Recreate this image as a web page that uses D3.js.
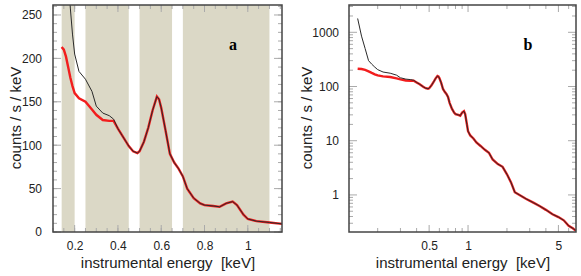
<!DOCTYPE html>
<html lang="en">
<head>
<meta charset="UTF-8"/>
<title>Spectrum panels</title>
<script src="https://d3js.org/d3.v7.min.js"></script>
<style>
	body { margin: 0; background: #fff; }
	text { font-family: "Liberation Sans", Arial, sans-serif; }
</style>
</head>
<body>
<script>

	// spectrum, keV vs counts/s/keV
	var energy = [0.14, 0.15, 0.16, 0.17, 0.18, 0.19, 0.2, 0.22, 0.25, 0.28,
		0.3, 0.33, 0.36, 0.38, 0.4, 0.42, 0.45, 0.47, 0.49, 0.5,
		0.52, 0.54, 0.56, 0.58, 0.59, 0.6, 0.62, 0.64, 0.66, 0.68,
		0.7, 0.72, 0.75, 0.78, 0.8, 0.84, 0.87, 0.9, 0.93, 0.95,
		0.98, 1.0, 1.04, 1.1, 1.16, 1.25, 1.35, 1.45, 1.55, 1.7,
		1.85, 2.0, 2.15, 2.3, 2.5, 2.8, 3.2, 3.6, 4.0, 4.5,
		5.0, 5.5, 6.0, 6.5, 6.8];

	var countsRed = [213, 210, 202, 190, 178, 168, 160, 154, 150, 141,
		135, 129, 128, 128, 119, 111, 99, 93, 91, 93,
		104, 120, 140, 156, 153, 143, 117, 90, 80, 73,
		64, 50, 39, 33, 31, 30, 29, 33, 35, 31,
		20, 15, 12.5, 11, 9.3, 8, 6.8, 6.0, 4.5, 3.7,
		3.3, 2.4, 1.7, 1.12, 1.0, 0.85, 0.72, 0.62, 0.53, 0.44,
		0.39, 0.34, 0.27, 0.24, 0.22];

	var countsBlack = [1800, 850, 500, 300, 258, 228, 205, 185, 176, 162,
		145, 137, 134, 130, 119, 111, 99, 93, 91, 93,
		104, 120, 140, 156, 153, 143, 117, 90, 80, 73,
		64, 50, 39, 33, 31, 30, 29, 33, 35, 31,
		20, 15, 12.5, 11, 9.3, 8, 6.8, 6.0, 4.5, 3.7,
		3.3, 2.4, 1.7, 1.12, 1.0, 0.85, 0.72, 0.62, 0.53, 0.44,
		0.39, 0.34, 0.27, 0.24, 0.22];

	// shaded energy bands in panel a
	var bandStart = [0.14, 0.25, 0.5, 0.7];
	var bandEnd   = [0.2, 0.45, 0.65, 1.1];

	var linTicksX = [0.2, 0.4, 0.6, 0.8, 1];
	var linTicksY = [0, 50, 100, 150, 200, 250];
	var logTicksX = [0.5, 1, 5];
	var logTicksY = [1, 10, 100, 1000];

	var w = 581;
	var h = 276;
	var plotTop = 5, plotBottom = 232;

	var svg = d3.select("body")
				.append("svg")
				.attr("width", w)
				.attr("height", h);

	var data = energy.map(function(e, i){
		return {e: e, red: countsRed[i], black: countsBlack[i]};
	});

	var frameColor = "#444";
	var tickColor = "#aaa";

	// ---------- panel a ----------
	var ax0 = 53, ax1 = 282;
	var xA = d3.scaleLinear().domain([0.1, 1.158]).range([ax0, ax1]);
	var yA = d3.scaleLinear().domain([0, 261.5]).range([plotBottom, plotTop]);

	var gA = svg.append("g");

	gA.append("clipPath").attr("id", "clipA")
		.append("rect")
		.attr("x", ax0).attr("y", plotTop)
		.attr("width", ax1 - ax0).attr("height", plotBottom - plotTop);

	gA.selectAll("rect.band")
		.data(bandStart)
		.enter()
		.append("rect")
		.attr("class", "band")
		.attr("x", function(d){ return xA(d); })
		.attr("y", plotTop)
		.attr("width", function(d, i){ return xA(bandEnd[i]) - xA(d); })
		.attr("height", plotBottom - plotTop)
		.attr("fill", "#dbd8c6");

	// minor + major ticks, inward, all four sides
	var minorXA = d3.range(0.1, 1.16, 0.05);
	var minorYA = d3.range(0, 261, 10);

	function inTicksX(g, scale, vals, y0, len){
		g.selectAll(null).data(vals).enter().append("line")
			.attr("x1", function(d){ return scale(d); })
			.attr("x2", function(d){ return scale(d); })
			.attr("y1", y0).attr("y2", y0 + len)
			.attr("stroke", tickColor).attr("stroke-width", 1);
	}
	function inTicksY(g, scale, vals, x0, len){
		g.selectAll(null).data(vals).enter().append("line")
			.attr("y1", function(d){ return scale(d); })
			.attr("y2", function(d){ return scale(d); })
			.attr("x1", x0).attr("x2", x0 + len)
			.attr("stroke", tickColor).attr("stroke-width", 1);
	}

	inTicksX(gA, xA, minorXA, plotBottom, -4);
	inTicksX(gA, xA, minorXA, plotTop, 4);
	inTicksX(gA, xA, linTicksX, plotBottom, -7);
	inTicksX(gA, xA, linTicksX, plotTop, 7);
	inTicksY(gA, yA, minorYA, ax0, 4);
	inTicksY(gA, yA, minorYA, ax1, -4);
	inTicksY(gA, yA, linTicksY, ax0, 8);
	inTicksY(gA, yA, linTicksY, ax1, -8);

	var lineA = function(key){
		return d3.line()
			.x(function(d){ return xA(d.e); })
			.y(function(d){ return yA(d[key]); });
	};

	var curvesA = gA.append("g").attr("clip-path", "url(#clipA)");
	curvesA.append("path").datum(data)
		.attr("d", lineA("red"))
		.attr("fill", "none").attr("stroke", "#f21d1d").attr("stroke-width", 2.4);
	curvesA.append("path").datum(data)
		.attr("d", lineA("black"))
		.attr("fill", "none").attr("stroke", "#2a2a2a").attr("stroke-width", 1);

	gA.append("rect")
		.attr("x", ax0).attr("y", plotTop)
		.attr("width", ax1 - ax0).attr("height", plotBottom - plotTop)
		.attr("fill", "none").attr("stroke", frameColor).attr("stroke-width", 1.5);

	gA.append("g")
		.attr("transform", "translate(0," + plotBottom + ")")
		.call(d3.axisBottom(xA).tickValues(linTicksX).tickSize(0).tickPadding(9)
			.tickFormat(d3.format("~g")))
		.call(function(g){ g.select(".domain").remove(); })
		.selectAll("text").attr("font-size", 12).attr("fill", "#222");

	gA.append("g")
		.attr("transform", "translate(" + ax0 + ",0)")
		.call(d3.axisLeft(yA).tickValues(linTicksY).tickSize(0).tickPadding(11))
		.call(function(g){ g.select(".domain").remove(); })
		.selectAll("text").attr("font-size", 12).attr("fill", "#222");

	gA.append("text")
		.attr("x", 168).attr("y", 268)
		.attr("text-anchor", "middle")
		.attr("font-size", 15).attr("fill", "#222")
		.attr("xml:space", "preserve")
		.text("instrumental energy  [keV]");

	gA.append("text")
		.attr("transform", "translate(21,118) rotate(-90)")
		.attr("text-anchor", "middle")
		.attr("font-size", 15).attr("fill", "#222")
		.text("counts / s / keV");

	gA.append("text")
		.attr("x", 233).attr("y", 50)
		.attr("text-anchor", "middle")
		.attr("font-size", 16).attr("font-weight", "bold")
		.style("font-family", "'Liberation Serif', 'DejaVu Serif', serif")
		.text("a");

	// ---------- panel b ----------
	var bx0 = 349, bx1 = 576;
	var xB = d3.scaleLog().domain([0.12, 6.84]).range([bx0, bx1]);
	var yB = d3.scaleLog().domain([0.207, 3190]).range([plotBottom, plotTop]);

	var gB = svg.append("g");

	var minorXB = [0.2, 0.3, 0.4, 0.6, 0.7, 0.8, 0.9, 2, 3, 4, 6];
	var minorYB = [];
	[0.1, 1, 10, 100, 1000].forEach(function(dec){
		d3.range(2, 10).forEach(function(k){
			var v = dec * k;
			if (v > 0.207 && v < 3190) minorYB.push(v);
		});
	});

	inTicksX(gB, xB, minorXB, plotBottom, -4);
	inTicksX(gB, xB, minorXB, plotTop, 4);
	inTicksX(gB, xB, logTicksX, plotBottom, -7);
	inTicksX(gB, xB, logTicksX, plotTop, 7);
	inTicksY(gB, yB, minorYB, bx0, 4);
	inTicksY(gB, yB, minorYB, bx1, -4);
	inTicksY(gB, yB, logTicksY, bx0, 8);
	inTicksY(gB, yB, logTicksY, bx1, -8);

	var lineB = function(key){
		return d3.line()
			.x(function(d){ return xB(d.e); })
			.y(function(d){ return yB(d[key]); });
	};

	gB.append("path").datum(data)
		.attr("d", lineB("red"))
		.attr("fill", "none").attr("stroke", "#f21d1d").attr("stroke-width", 2.4);
	gB.append("path").datum(data)
		.attr("d", lineB("black"))
		.attr("fill", "none").attr("stroke", "#2a2a2a").attr("stroke-width", 1);

	gB.append("rect")
		.attr("x", bx0).attr("y", plotTop)
		.attr("width", bx1 - bx0).attr("height", plotBottom - plotTop)
		.attr("fill", "none").attr("stroke", frameColor).attr("stroke-width", 1.5);

	gB.append("g")
		.attr("transform", "translate(0," + plotBottom + ")")
		.call(d3.axisBottom(xB).tickValues(logTicksX).tickSize(0).tickPadding(9)
			.tickFormat(d3.format("~g")))
		.call(function(g){ g.select(".domain").remove(); })
		.selectAll("text").attr("font-size", 12).attr("fill", "#222");

	gB.append("g")
		.attr("transform", "translate(" + bx0 + ",0)")
		.call(d3.axisLeft(yB).tickValues(logTicksY).tickSize(0).tickPadding(10)
			.tickFormat(d3.format("~g")))
		.call(function(g){ g.select(".domain").remove(); })
		.selectAll("text").attr("font-size", 12).attr("fill", "#222");

	gB.append("text")
		.attr("x", 463).attr("y", 268)
		.attr("text-anchor", "middle")
		.attr("font-size", 15).attr("fill", "#222")
		.attr("xml:space", "preserve")
		.text("instrumental energy  [keV]");

	gB.append("text")
		.attr("transform", "translate(312,118) rotate(-90)")
		.attr("text-anchor", "middle")
		.attr("font-size", 15).attr("fill", "#222")
		.text("counts / s / keV");

	gB.append("text")
		.attr("x", 528).attr("y", 50)
		.attr("text-anchor", "middle")
		.attr("font-size", 16).attr("font-weight", "bold")
		.style("font-family", "'Liberation Serif', 'DejaVu Serif', serif")
		.text("b");

</script>
</body>
</html>
